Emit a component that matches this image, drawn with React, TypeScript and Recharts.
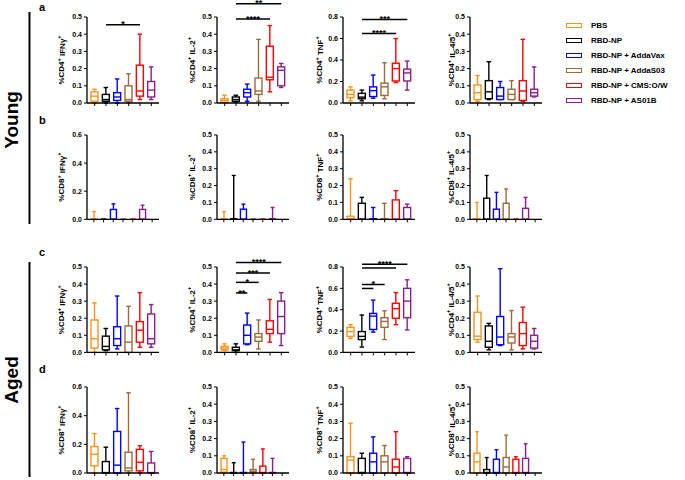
import { ComposedChart, Bar, XAxis, YAxis, ReferenceLine } from "recharts";

const FONT = '"Liberation Sans", Arial, sans-serif';

const GROUPS = [
  "PBS",
  "RBD-NP",
  "RBD-NP + AddaVax",
  "RBD-NP + AddaS03",
  "RBD-NP + CMS:O/W",
  "RBD-NP + AS01B",
];
const GROUP_COLORS = ["#f7941d", "#000000", "#0000ff", "#9c6a3c", "#ff0000", "#8b1e8b"];

// box stats per group: [min, q1, median, q3, max]
const youngCD4IFNg = [
  [0, 0.01, 0.04, 0.065, 0.08],
  [0, 0.01, 0.02, 0.05, 0.09],
  [0, 0.015, 0.035, 0.06, 0.14],
  [0, 0.01, 0.02, 0.1, 0.17],
  [0.02, 0.04, 0.07, 0.22, 0.4],
  [0.02, 0.035, 0.075, 0.125, 0.21],
];
const youngCD4IL2 = [
  [0, 0.005, 0.015, 0.025, 0.045],
  [0.005, 0.01, 0.02, 0.035, 0.045],
  [0.01, 0.035, 0.06, 0.08, 0.11],
  [0.01, 0.05, 0.07, 0.145, 0.37],
  [0.065, 0.135, 0.15, 0.33, 0.45],
  [0.09, 0.1, 0.19, 0.21, 0.23],
];
const youngCD4TNF = [
  [0.02, 0.05, 0.08, 0.12, 0.15],
  [0.02, 0.04, 0.055, 0.09, 0.12],
  [0.045, 0.06, 0.115, 0.15, 0.26],
  [0.04, 0.07, 0.15, 0.185, 0.375],
  [0.19, 0.205, 0.32, 0.37, 0.6],
  [0.12, 0.205, 0.28, 0.315, 0.39],
];
const youngCD4IL45 = [
  [0.01, 0.02, 0.06, 0.105, 0.16],
  [0.02, 0.025, 0.065, 0.13, 0.24],
  [0.02, 0.02, 0.04, 0.09, 0.125],
  [0.02, 0.02, 0.05, 0.08, 0.13],
  [0.01, 0.015, 0.07, 0.13, 0.37],
  [0.035, 0.04, 0.06, 0.08, 0.21],
];
const youngCD8IFNg = [
  [0, 0, 0, 0.003, 0.055],
  [0, 0, 0, 0, 0],
  [0, 0, 0, 0.07, 0.11],
  [0, 0, 0, 0, 0],
  [0, 0, 0, 0, 0],
  [0, 0, 0, 0.07, 0.1],
];
const youngCD8IL2 = [
  [0, 0, 0, 0.003, 0.045],
  [0, 0, 0, 0.003, 0.26],
  [0, 0, 0, 0.06, 0.09],
  [0, 0, 0, 0, 0],
  [0, 0, 0, 0, 0],
  [0, 0, 0, 0.003, 0.07],
];
const youngCD8TNF = [
  [0, 0, 0.003, 0.018, 0.24],
  [0, 0, 0, 0.095, 0.13],
  [0, 0, 0, 0.003, 0.07],
  [0, 0, 0, 0.003, 0.095],
  [0, 0, 0, 0.115, 0.17],
  [0, 0, 0, 0.07, 0.09],
];
const youngCD8IL45 = [
  [0, 0, 0, 0.003, 0.1],
  [0, 0, 0, 0.125, 0.26],
  [0, 0, 0, 0.06, 0.16],
  [0, 0, 0, 0.095, 0.18],
  [0, 0, 0, 0, 0],
  [0, 0, 0, 0.065, 0.13],
];
const agedCD4IFNg = [
  [0, 0.025, 0.08, 0.19, 0.29],
  [0.01, 0.015, 0.035, 0.095, 0.14],
  [0.02, 0.04, 0.08, 0.15, 0.33],
  [0, 0, 0.06, 0.155, 0.27],
  [0.03, 0.06, 0.13, 0.18, 0.35],
  [0.03, 0.05, 0.08, 0.225, 0.28],
];
const agedCD4IL2 = [
  [0.01, 0.015, 0.025, 0.035, 0.05],
  [0, 0.01, 0.015, 0.03, 0.05],
  [0.045, 0.05, 0.1, 0.16, 0.23],
  [0.02, 0.065, 0.09, 0.11, 0.19],
  [0.06, 0.11, 0.135, 0.185, 0.31],
  [0.04, 0.11, 0.21, 0.3, 0.35],
];
const agedCD4TNF = [
  [0.13, 0.15, 0.195, 0.235, 0.26],
  [0.05, 0.12, 0.15, 0.195, 0.35],
  [0.19, 0.215, 0.34, 0.365, 0.49],
  [0.12, 0.235, 0.29, 0.325, 0.39],
  [0.26, 0.32, 0.41, 0.46, 0.56],
  [0.21, 0.325, 0.48, 0.6, 0.68],
];
const agedCD4IL45 = [
  [0.06, 0.075, 0.095, 0.235, 0.33],
  [0.015, 0.03, 0.065, 0.155, 0.17],
  [0.04, 0.045, 0.09, 0.21, 0.49],
  [0.015, 0.055, 0.09, 0.11, 0.245],
  [0.02, 0.04, 0.11, 0.175, 0.265],
  [0.02, 0.025, 0.065, 0.1, 0.14],
];
const agedCD8IFNg = [
  [0, 0.05, 0.13, 0.185, 0.275],
  [0, 0, 0.003, 0.08, 0.18],
  [0, 0, 0.055, 0.29, 0.45],
  [0, 0.015, 0.035, 0.145, 0.56],
  [0, 0.015, 0.075, 0.165, 0.19],
  [0, 0, 0.003, 0.07, 0.15],
];
const agedCD8IL2 = [
  [0, 0.005, 0.02, 0.085, 0.1],
  [0, 0, 0, 0.003, 0.06],
  [0, 0, 0, 0.003, 0.18],
  [0, 0, 0.01, 0.02, 0.08],
  [0, 0, 0.003, 0.04, 0.14],
  [0, 0, 0, 0.003, 0.085],
];
const agedCD8TNF = [
  [0, 0, 0.075, 0.095, 0.29],
  [0, 0, 0.003, 0.085, 0.115],
  [0, 0, 0.065, 0.115, 0.21],
  [0, 0, 0.065, 0.1, 0.16],
  [0, 0, 0.035, 0.08, 0.24],
  [0, 0, 0.003, 0.085, 0.095],
];
const agedCD8IL45 = [
  [0, 0, 0.065, 0.115, 0.24],
  [0, 0, 0.003, 0.02, 0.09],
  [0, 0, 0.003, 0.08, 0.135],
  [0, 0, 0.035, 0.09, 0.22],
  [0, 0, 0.003, 0.08, 0.095],
  [0, 0, 0.003, 0.085, 0.17],
];

const TICKS_05 = [0, 0.1, 0.2, 0.3, 0.4, 0.5];
const TICKS_06 = [0, 0.2, 0.4, 0.6];
const TICKS_08 = [0, 0.2, 0.4, 0.6, 0.8];

type Sig = { from: number; to: number; y: number; stars: string };
type Panel = {
  cell: string;
  marker: string;
  boxes: number[][];
  ticks: number[];
  slots: number;
  sig?: Sig[];
};

const ROWS: Panel[][] = [
  [
    { cell: "CD4", marker: "IFNγ", boxes: youngCD4IFNg, ticks: TICKS_05, slots: 6, sig: [{ from: 1, to: 4, y: 0.455, stars: "*" }] },
    {
      cell: "CD4", marker: "IL-2", boxes: youngCD4IL2, ticks: TICKS_05, slots: 6,
      sig: [
        { from: 1, to: 5, y: 0.577, stars: "**" },
        { from: 1, to: 4, y: 0.488, stars: "****" },
      ],
    },
    {
      cell: "CD4", marker: "TNF", boxes: youngCD4TNF, ticks: TICKS_08, slots: 6,
      sig: [
        { from: 1, to: 5, y: 0.776, stars: "***" },
        { from: 1, to: 4, y: 0.646, stars: "****" },
      ],
    },
    { cell: "CD4", marker: "IL-4/5", boxes: youngCD4IL45, ticks: TICKS_05, slots: 6 },
  ],
  [
    { cell: "CD8", marker: "IFNγ", boxes: youngCD8IFNg, ticks: TICKS_06, slots: 7 },
    { cell: "CD8", marker: "IL-2", boxes: youngCD8IL2, ticks: TICKS_05, slots: 7 },
    { cell: "CD8", marker: "TNF", boxes: youngCD8TNF, ticks: TICKS_05, slots: 6 },
    { cell: "CD8", marker: "IL-4/5", boxes: youngCD8IL45, ticks: TICKS_05, slots: 7 },
  ],
  [
    { cell: "CD4", marker: "IFNγ", boxes: agedCD4IFNg, ticks: TICKS_05, slots: 6 },
    {
      cell: "CD4", marker: "IL-2", boxes: agedCD4IL2, ticks: TICKS_05, slots: 6,
      sig: [
        { from: 1, to: 5, y: 0.527, stars: "****" },
        { from: 1, to: 4, y: 0.465, stars: "***" },
        { from: 1, to: 3, y: 0.41, stars: "*" },
        { from: 1, to: 2, y: 0.348, stars: "**" },
      ],
    },
    {
      cell: "CD4", marker: "TNF", boxes: agedCD4TNF, ticks: TICKS_08, slots: 6,
      sig: [
        { from: 1, to: 5, y: 0.825, stars: "****" },
        { from: 1, to: 4, y: 0.791, stars: "" },
        { from: 1, to: 3, y: 0.636, stars: "*" },
        { from: 1, to: 2, y: 0.599, stars: "" },
      ],
    },
    { cell: "CD4", marker: "IL-4/5", boxes: agedCD4IL45, ticks: TICKS_05, slots: 6 },
  ],
  [
    { cell: "CD8", marker: "IFNγ", boxes: agedCD8IFNg, ticks: TICKS_06, slots: 6 },
    { cell: "CD8", marker: "IL-2", boxes: agedCD8IL2, ticks: TICKS_05, slots: 7 },
    { cell: "CD8", marker: "TNF", boxes: agedCD8TNF, ticks: TICKS_05, slots: 6 },
    { cell: "CD8", marker: "IL-4/5", boxes: agedCD8IL45, ticks: TICKS_05, slots: 7 },
  ],
];

// layout (page px)
const AXIS_X = [87.3, 216.7, 343.3, 469.5];
const LABEL_X = [62, 192, 320, 451];
const PLOT_TOP = [17.3, 135, 267.3, 386.7];
const PLOT_H = [86, 84.3, 85.4, 86];
const Y_AXIS_W = 36;
const PLOT_W = 72;
const TOP_PAD = 22;
const X_AXIS_H = 5;

const BoxShape = (props: any) => {
  const { x, y, width, height, payload } = props;
  if (!payload || !payload.box) return <g />;
  const [mn, q1, md, q3, mx] = payload.box;
  const top = Math.min(y, y + height);
  const h = Math.abs(height);
  const span = mx - mn;
  const py = (v: number) => (span > 0 ? top + ((mx - v) / span) * h : top);
  const c = payload.color;
  const cx = x + width / 2;
  const cap = width * 0.65;
  const sw = 1.4;
  return (
    <g>
      <line x1={cx} x2={cx} y1={py(mx)} y2={py(q3)} stroke={c} strokeWidth={sw} />
      <line x1={cx} x2={cx} y1={py(q1)} y2={py(mn)} stroke={c} strokeWidth={sw} />
      <line x1={cx - cap / 2} x2={cx + cap / 2} y1={py(mx)} y2={py(mx)} stroke={c} strokeWidth={sw} />
      <line x1={cx - cap / 2} x2={cx + cap / 2} y1={py(mn)} y2={py(mn)} stroke={c} strokeWidth={sw} />
      <rect x={x} y={py(q3)} width={width} height={Math.max(0, py(q1) - py(q3))} fill="#fff" stroke={c} strokeWidth={sw} />
      <line x1={x} x2={x + width} y1={py(md)} y2={py(md)} stroke={c} strokeWidth={sw} />
    </g>
  );
};

function BoxPanel({ panel, row, col }: { panel: Panel; row: number; col: number }) {
  const plotH = PLOT_H[row];
  const width = Y_AXIS_W + PLOT_W + 4;
  const height = TOP_PAD + plotH + X_AXIS_H;
  const left = AXIS_X[col] - Y_AXIS_W;
  const top = PLOT_TOP[row] - TOP_PAD;
  const ymax = panel.ticks[panel.ticks.length - 1];

  const data = GROUPS.map((g, i) => ({ name: g, box: panel.boxes[i], color: GROUP_COLORS[i] }));
  if (panel.slots > GROUPS.length) data.push({ name: "", box: null as any, color: "#000" });

  const labelX = LABEL_X[col] - left;
  const labelY = TOP_PAD + plotH / 2;
  const tickStyle = { fontSize: 7, fontWeight: "bold", fill: "#000", fontFamily: FONT };

  return (
    <div style={{ position: "absolute", left, top, width, height }}>
      <ComposedChart
        width={width}
        height={height}
        data={data}
        margin={{ top: TOP_PAD, right: 4, bottom: 0, left: 0 }}
        barCategoryGap={0}
      >
        <XAxis
          dataKey="name"
          type="category"
          height={X_AXIS_H}
          interval={0}
          tickSize={3}
          tickFormatter={() => ""}
          padding={{ left: 2, right: 2 }}
          axisLine={{ stroke: "#000", strokeWidth: 1.3 }}
          tickLine={{ stroke: "#000", strokeWidth: 1 }}
        />
        <YAxis
          type="number"
          domain={[0, ymax]}
          ticks={panel.ticks}
          interval={0}
          width={Y_AXIS_W}
          tickSize={3}
          tickFormatter={(v: number) => v.toFixed(1)}
          tick={tickStyle}
          axisLine={{ stroke: "#000", strokeWidth: 1.3 }}
          tickLine={{ stroke: "#000", strokeWidth: 1 }}
          label={{
            content: () => (
              <text
                x={labelX}
                y={labelY}
                transform={`rotate(-90 ${labelX} ${labelY})`}
                textAnchor="middle"
                dominantBaseline="central"
                fontSize={8}
                fontWeight="bold"
                fontFamily={FONT}
                fill="#000"
              >
                %{panel.cell}
                <tspan fontSize={5.5} dy={-3}>+</tspan>
                <tspan dy={3}> {panel.marker}</tspan>
                <tspan fontSize={5.5} dy={-3}>+</tspan>
              </text>
            ),
          }}
        />
        <Bar
          dataKey={(d: any) => (d.box ? [d.box[0], d.box[4]] : null)}
          barSize={panel.slots === 7 ? 6 : 7}
          shape={BoxShape}
          isAnimationActive={false}
        />
        {(panel.sig || []).map((s, i) => (
          <ReferenceLine
            key={i}
            ifOverflow="visible"
            segment={[
              { x: GROUPS[s.from], y: s.y },
              { x: GROUPS[s.to], y: s.y },
            ]}
            stroke="#000"
            strokeWidth={1.5}
            label={{
              content: (lp: any) => {
                const vb = lp.viewBox || {};
                return (
                  <text
                    x={vb.x + vb.width / 2}
                    y={vb.y + 2.6}
                    textAnchor="middle"
                    fontSize={9}
                    fontWeight="bold"
                    fontFamily={FONT}
                    fill="#000"
                  >
                    {s.stars}
                  </text>
                );
              },
            }}
          />
        ))}
      </ComposedChart>
    </div>
  );
}

function Decorations() {
  const letter = { fontSize: 11, fontWeight: "bold" as const, fontFamily: FONT, fill: "#000" };
  const big = { fontSize: 19, fontWeight: "bold" as const, fontFamily: FONT, fill: "#000" };
  return (
    <svg width={685} height={480} style={{ position: "absolute", left: 0, top: 0, pointerEvents: "none" }}>
      <text x={39} y={10.5} {...letter}>a</text>
      <text x={39} y={124} {...letter}>b</text>
      <text x={39} y={255.5} {...letter}>c</text>
      <text x={39} y={373} {...letter}>d</text>
      <line x1={29.5} x2={29.5} y1={12} y2={224} stroke="#000" strokeWidth={2} />
      <line x1={29.5} x2={29.5} y1={262} y2={477} stroke="#000" strokeWidth={2} />
      <text x={11} y={120} transform="rotate(-90 11 120)" textAnchor="middle" dominantBaseline="central" {...big}>Young</text>
      <text x={11} y={380} transform="rotate(-90 11 380)" textAnchor="middle" dominantBaseline="central" {...big}>Aged</text>
    </svg>
  );
}

function GroupLegend() {
  return (
    <div style={{ position: "absolute", left: 566, top: 18, fontFamily: FONT }}>
      {GROUPS.map((g, i) => (
        <div key={g} style={{ display: "flex", alignItems: "center", height: 15 }}>
          <span
            style={{
              display: "inline-block",
              width: 14,
              height: 3,
              border: `1.5px solid ${GROUP_COLORS[i]}`,
              marginRight: 9,
            }}
          />
          <span style={{ fontSize: 8, fontWeight: "bold", color: "#000", whiteSpace: "nowrap" }}>{g}</span>
        </div>
      ))}
    </div>
  );
}

export default function App() {
  return (
    <div style={{ position: "absolute", left: 0, top: 0, width: 685, height: 480, background: "#fff", overflow: "hidden" }}>
      <Decorations />
      {ROWS.map((row, r) =>
        row.map((p, c) => <BoxPanel key={`${r}-${c}`} panel={p} row={r} col={c} />)
      )}
      <GroupLegend />
    </div>
  );
}
